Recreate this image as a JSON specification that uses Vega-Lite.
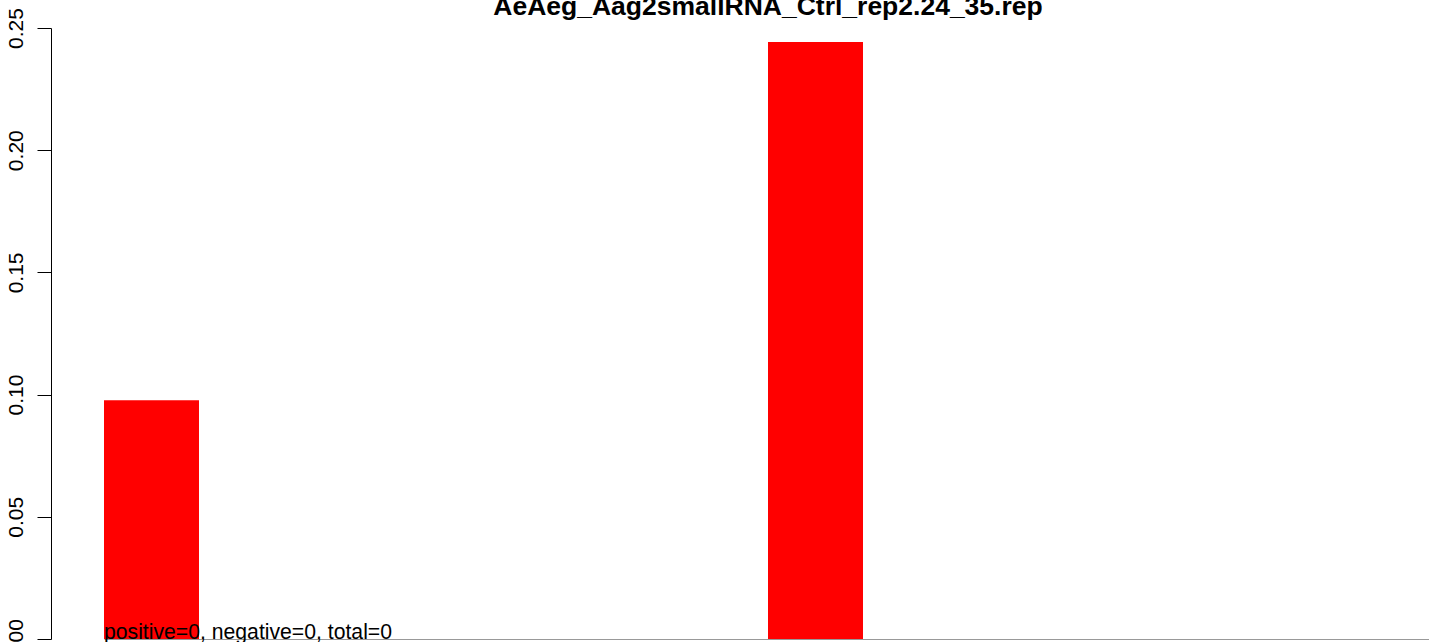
{
  "$schema": "https://vega.github.io/schema/vega-lite/v6.json",
  "autosize": "none",
  "width": 1328,
  "height": 611,
  "padding": {"left": 104, "top": 28, "right": 0, "bottom": 3},
  "background": "white",
  "title": {
    "text": "AeAeg_Aag2smallRNA_Ctrl_rep2.24_35.rep",
    "font": "Liberation Sans",
    "fontSize": 26.5,
    "fontWeight": "bold",
    "color": "black",
    "anchor": "middle",
    "frame": "group",
    "baseline": "alphabetic",
    "offset": 0,
    "dy": 34
  },
  "config": {"view": {"stroke": null}, "axis": {"grid": false}},
  "encoding": {
    "x": {
      "field": "length",
      "type": "ordinal",
      "sort": "ascending",
      "scale": {"type": "band", "paddingInner": 0.1416, "paddingOuter": 0.0708, "align": 0},
      "axis": {"labels": false, "ticks": false, "domainColor": "#999999", "domainWidth": 1, "title": null, "grid": false}
    },
    "y": {
      "field": "fraction",
      "type": "quantitative",
      "scale": {"domain": [0, 0.25], "nice": false, "zero": true},
      "axis": {
        "values": [0, 0.05, 0.1, 0.15, 0.2, 0.25],
        "format": ".2f",
        "offset": 53,
        "tickSize": 14,
        "tickColor": "black",
        "tickWidth": 1,
        "domainColor": "black",
        "domainWidth": 1,
        "labelAngle": 270,
        "labelAlign": "center",
        "labelBaseline": "alphabetic",
        "labelPadding": 15,
        "labelFont": "Liberation Sans",
        "labelFontSize": 21,
        "labelColor": "black",
        "labelOverlap": false,
        "labelBound": false,
        "labelFlush": false,
        "title": null,
        "grid": false
      }
    }
  },
  "layer": [
    {
      "data": {"values": [
        {"length": "24", "fraction": 0.0977},
        {"length": "25", "fraction": 0},
        {"length": "26", "fraction": 0},
        {"length": "27", "fraction": 0},
        {"length": "28", "fraction": 0},
        {"length": "29", "fraction": 0},
        {"length": "30", "fraction": 0.2443},
        {"length": "31", "fraction": 0},
        {"length": "32", "fraction": 0},
        {"length": "33", "fraction": 0},
        {"length": "34", "fraction": 0},
        {"length": "35", "fraction": 0}
      ]},
      "mark": {"type": "bar", "color": "#FF0000"}
    },
    {
      "data": {"values": [
        {"length": "24", "fraction": 0, "label": "positive=0, negative=0, total=0"}
      ]},
      "mark": {"type": "text", "align": "left", "baseline": "alphabetic", "font": "Liberation Sans", "fontSize": 21.2, "color": "black"},
      "encoding": {
        "x": {"field": "length", "type": "ordinal", "bandPosition": 0},
        "text": {"field": "label"}
      }
    }
  ]
}
